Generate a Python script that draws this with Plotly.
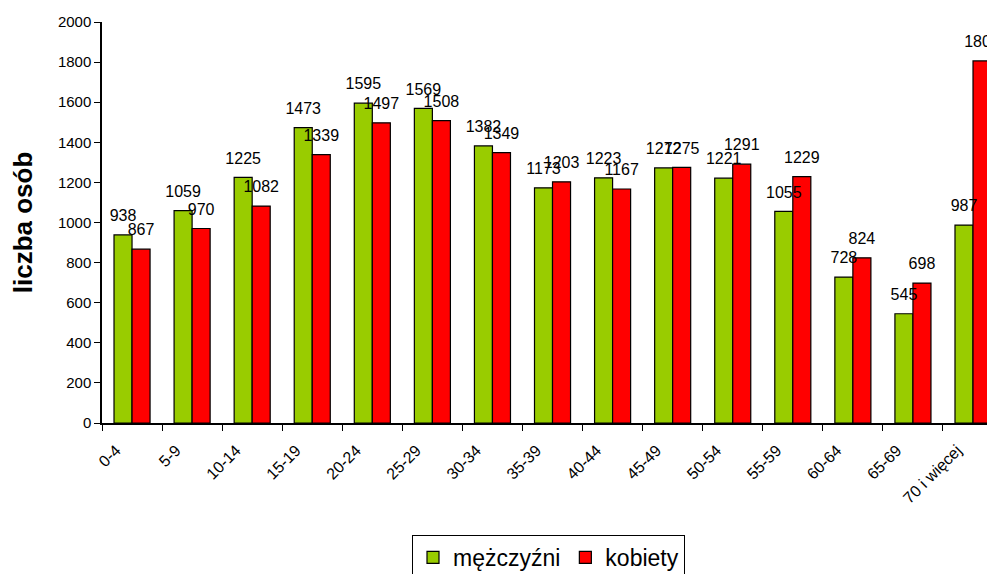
"""
Struktura ludności według wieku i płci - wykres słupkowy
"""
import plotly.graph_objects as go

grupy_wieku = ["0-4", "5-9", "10-14", "15-19", "20-24", "25-29", "30-34", "35-39",
               "40-44", "45-49", "50-54", "55-59", "60-64", "65-69", "70 i więcej"]
mezczyzni = [938, 1059, 1225, 1473, 1595, 1569, 1382, 1173,
             1223, 1272, 1221, 1055, 728, 545, 987]
kobiety = [867, 970, 1082, 1339, 1497, 1508, 1349, 1203,
           1167, 1275, 1291, 1229, 824, 698, 1806]

FONT = "Liberation Sans, Arial, sans-serif"

fig = go.Figure()

serie = [("mężczyźni", mezczyzni, "#99CC00"), ("kobiety", kobiety, "#FF0000")]

for nazwa, wartosci, kolor in serie:
    fig.add_trace(go.Bar(
        name=nazwa,
        x=grupy_wieku,
        y=wartosci,
        marker=dict(color=kolor, line=dict(color='black', width=1.2)),
    ))

# etykiety wartości nad słupkami (niewidoczny marker daje odstęp od słupka)
for nazwa, wartosci, kolor in serie:
    fig.add_trace(go.Scatter(
        x=grupy_wieku,
        y=wartosci,
        mode='markers+text',
        text=[str(v) for v in wartosci],
        textposition='top center',
        textfont=dict(size=16, color='black', family=FONT),
        marker=dict(size=14, opacity=0),
        showlegend=False,
        hoverinfo='skip',
        cliponaxis=False,
    ))

fig.update_layout(
    width=995,
    height=574,
    barmode='group',
    bargap=0.4,
    bargroupgap=0,
    scattermode='group',
    scattergap=0.4,
    plot_bgcolor='white',
    paper_bgcolor='white',
    font=dict(family=FONT, color='black'),
    # strona ma 8px marginesu body, więc marginesy są o to pomniejszone
    margin=dict(l=94, r=8, t=14, b=159, autoexpand=False),
    xaxis=dict(
        range=[-0.5, 14.366],
        automargin=False,
        tickangle=-45,
        tickson='boundaries',
        ticks='outside',
        ticklen=6,
        tickcolor='black',
        showline=True,
        linecolor='black',
        linewidth=1.5,
        tickfont=dict(size=16, family=FONT),
        ticklabelstandoff=10,
        ticklabelshift=-16,
        showgrid=False,
    ),
    yaxis=dict(
        range=[0, 2000],
        dtick=200,
        automargin=False,
        ticks='outside',
        ticklen=6,
        tickcolor='black',
        showline=True,
        linecolor='black',
        linewidth=1.5,
        tickfont=dict(size=15, family=FONT),
        showgrid=False,
        zeroline=False,
        title=dict(text='<b>liczba osób</b>', font=dict(size=26, family=FONT), standoff=25),
    ),
    legend=dict(
        orientation='h',
        x=0.5,
        xanchor='center',
        y=-0.2793,
        yanchor='top',
        font=dict(size=23, family=FONT),
        bordercolor='black',
        borderwidth=1,
        bgcolor='white',
    ),
)

fig.write_html("out.html")
